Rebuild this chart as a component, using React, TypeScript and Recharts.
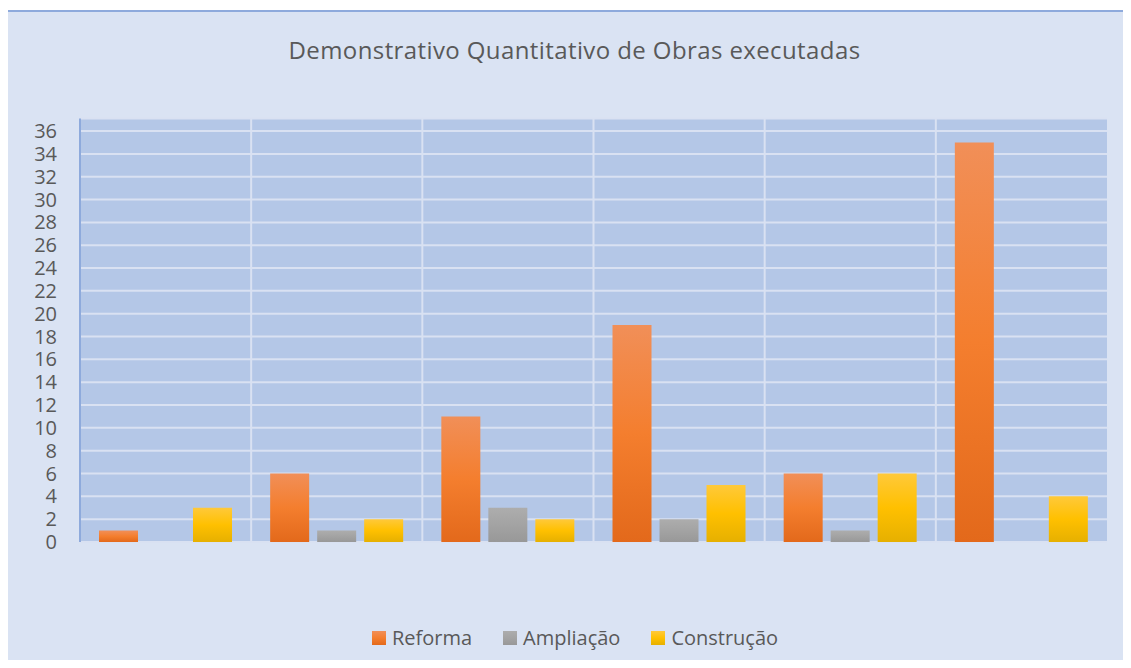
import React from 'react';
import { BarChart, Bar, XAxis, YAxis, CartesianGrid, Legend } from 'recharts';

const categories = ['Grupo 1', 'Grupo 2', 'Grupo 3', 'Grupo 4', 'Grupo 5', 'Grupo 6'];
const reforma = [1, 6, 11, 19, 6, 35];
const ampliacao = [0, 1, 3, 2, 1, 0];
const construcao = [3, 2, 2, 5, 6, 4];
const yTicks = [0, 2, 4, 6, 8, 10, 12, 14, 16, 18, 20, 22, 24, 26, 28, 30, 32, 34, 36];
const seriesNames = ['Reforma', 'Ampliação', 'Construção'];
const title = 'Demonstrativo Quantitativo de Obras executadas';

const data = categories.map((c, i) => ({
  cat: c,
  [seriesNames[0]]: reforma[i],
  [seriesNames[1]]: ampliacao[i],
  [seriesNames[2]]: construcao[i],
}));

const gradients: Record<string, [string, string, string]> = {
  Reforma: ['#f18f58', '#f47e2e', '#e3691b'],
  'Ampliação': ['#adadad', '#a3a3a3', '#989898'],
  'Construção': ['#ffc93a', '#ffc000', '#e6b000'],
};
const gradIds: Record<string, string> = {
  Reforma: 'gReforma',
  'Ampliação': 'gAmpliacao',
  'Construção': 'gConstrucao',
};

const FONT = '"Open Sans", "Noto Sans", sans-serif';
const TEXT = '#595959';

const LegendContent = () => {
  return (
    <div style={{ display: 'flex', justifyContent: 'center', gap: 31, fontFamily: FONT, fontSize: 20, color: TEXT }}>
      {seriesNames.map((name) => {
        const g = gradients[name];
        return (
          <div key={name} style={{ display: 'flex', alignItems: 'center' }}>
            <div style={{ width: 14, height: 14, marginRight: 6, background: `linear-gradient(${g[0]}, ${g[1]} 50%, ${g[2]})` }} />
            <span style={{ lineHeight: '28px' }}>{name}</span>
          </div>
        );
      })}
    </div>
  );
};

export default function App() {
  return (
    <div style={{ position: 'relative', margin: -8, width: 1131, height: 668, background: '#ffffff', overflow: 'hidden', fontFamily: FONT }}>
      <div style={{ position: 'absolute', left: 6, top: 10, width: 1200, height: 700, background: '#dae3f3', borderLeft: '2px solid #8eaadc', borderTop: '2px solid #8eaadc' }} />
      <svg width={1131} height={80} style={{ position: 'absolute', left: 0, top: 0 }}>
        <text x={574.5} y={59} textAnchor="middle" fontFamily={FONT} fontSize={24} letterSpacing={0.4} fill={TEXT}>{title}</text>
      </svg>
      <div style={{ position: 'absolute', left: 0, top: 0 }}>
        <BarChart width={1131} height={668} data={data} margin={{ top: 118.5, right: 24, bottom: 126, left: 20 }} barCategoryGap={19} barGap={8}>
          <defs>
            {seriesNames.map((s) => (
              <linearGradient key={s} id={gradIds[s]} x1="0" y1="0" x2="0" y2="1">
                <stop offset="0%" stopColor={gradients[s][0]} />
                <stop offset="50%" stopColor={gradients[s][1]} />
                <stop offset="100%" stopColor={gradients[s][2]} />
              </linearGradient>
            ))}
          </defs>
          <CartesianGrid
            fill="#b4c7e7"
            fillOpacity={1}
            stroke="#d9e1f2"
            strokeWidth={2}
            verticalCoordinatesGenerator={(p: any) => {
              const o = p.offset;
              return [1, 2, 3, 4, 5].map((i) => o.left + (o.width * i) / categories.length);
            }}
          />
          <XAxis dataKey="cat" height={0} tick={false} tickLine={false} axisLine={{ stroke: '#cdd5e4', strokeWidth: 2 }} />
          <XAxis xAxisId="top" orientation="top" dataKey="cat" height={0} tick={false} tickLine={false} axisLine={{ stroke: '#8eaadc', strokeWidth: 2 }} />
          <YAxis
            width={60}
            domain={[0, 37.1]}
            ticks={yTicks}
            interval={0}
            tickLine={false}
            tickSize={0}
            tickMargin={23}
            axisLine={{ stroke: '#8eaadc', strokeWidth: 2 }}
            tick={{ fill: TEXT, fontSize: 20, fontFamily: FONT }}
            allowDecimals={false}
          />
          <YAxis yAxisId="right" orientation="right" width={0} tick={false} tickLine={false} axisLine={{ stroke: '#8eaadc', strokeWidth: 2 }} />
          <Legend
            verticalAlign="middle"
            align="center"
            layout="horizontal"
            content={LegendContent}
            wrapperStyle={{ position: 'absolute', top: 624, left: 0, width: 1150 }}
          />
          {seriesNames.map((s) => (
            <Bar key={s} dataKey={s} fill={`url(#${gradIds[s]})`} isAnimationActive={false} />
          ))}
        </BarChart>
      </div>
    </div>
  );
}
